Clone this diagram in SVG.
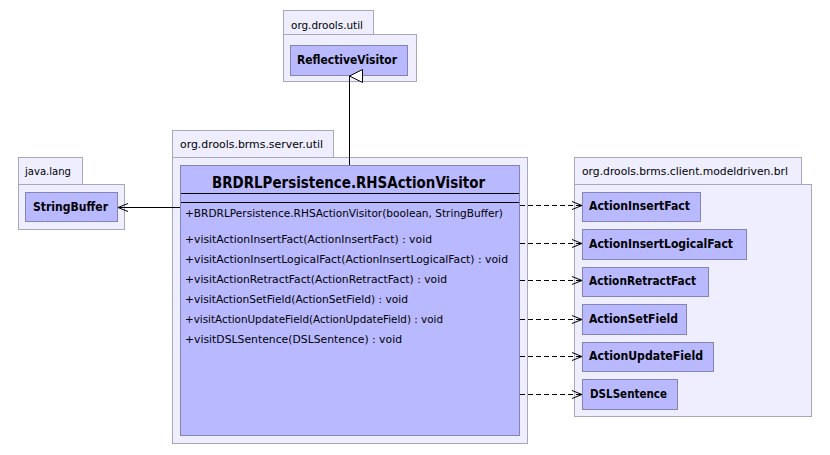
<svg xmlns="http://www.w3.org/2000/svg" width="830" height="455" viewBox="0 0 830 455">
<style>
.pkg{fill:#eeeeff;stroke:#a8a8bc;stroke-width:1}
.cls{fill:#b9b9ff;stroke:#8484b4;stroke-width:1}
.plabel{font-family:"DejaVu Sans","Liberation Sans",sans-serif;font-size:11px;fill:#000}
.cname{font-family:"DejaVu Sans","Liberation Sans",sans-serif;font-size:12px;font-weight:bold;fill:#000}
.big{font-family:"DejaVu Sans","Liberation Sans",sans-serif;font-size:16px;font-weight:bold;fill:#000}
.mem{font-family:"DejaVu Sans","Liberation Sans",sans-serif;font-size:10.5px;fill:#000}
.line{stroke:#000;stroke-width:1;fill:none}
.dash{stroke:#000;stroke-width:1;fill:none;stroke-dasharray:5,3}
</style>
<defs>
<marker id="open" markerWidth="12" markerHeight="10" refX="11" refY="5" orient="auto" markerUnits="userSpaceOnUse">
<path d="M1,1 L11,5 L1,9" fill="none" stroke="#000" stroke-width="1"/>
</marker>
<marker id="tri" markerWidth="16" markerHeight="16" refX="7.5" refY="1" orient="auto-start-reverse" markerUnits="userSpaceOnUse">
<path d="M1,14 L7.5,1 L14,14 Z" fill="#fff" stroke="#000" stroke-width="1"/>
</marker>
</defs>

<g id="pkg-util">
<rect class="pkg" x="283.5" y="10.5" width="90" height="24"/>
<rect class="pkg" x="283.5" y="34.5" width="133" height="47"/>
<text class="plabel" x="291" y="29" textLength="72" lengthAdjust="spacingAndGlyphs">org.drools.util</text>
</g>
<g id="ReflectiveVisitor">
<rect class="cls" x="290.5" y="45.5" width="117" height="30"/>
<text class="cname" x="297" y="64" textLength="100" lengthAdjust="spacingAndGlyphs">ReflectiveVisitor</text>
</g>

<g id="pkg-javalang">
<rect class="pkg" x="18.5" y="157.5" width="64" height="27"/>
<rect class="pkg" x="18.5" y="184.5" width="106" height="45"/>
<text class="plabel" x="25" y="175" textLength="46" lengthAdjust="spacingAndGlyphs">java.lang</text>
</g>
<g id="StringBuffer">
<rect class="cls" x="25.5" y="192.5" width="92" height="29"/>
<text class="cname" x="33" y="211" textLength="75" lengthAdjust="spacingAndGlyphs">StringBuffer</text>
</g>

<g id="pkg-server">
<rect class="pkg" x="172.5" y="130.5" width="161" height="27"/>
<rect class="pkg" x="172.5" y="157.5" width="355" height="286"/>
<text class="plabel" x="180" y="148" textLength="143" lengthAdjust="spacingAndGlyphs">org.drools.brms.server.util</text>
</g>
<g id="RHSActionVisitor">
<rect class="cls" x="180.5" y="165.5" width="339" height="270"/>
<text class="big" x="212" y="188" textLength="273" lengthAdjust="spacingAndGlyphs">BRDRLPersistence.RHSActionVisitor</text>
<line class="line" x1="181" y1="193.5" x2="519" y2="193.5"/>
<line class="line" x1="181" y1="202.5" x2="519" y2="202.5"/>
<text class="mem" x="185" y="217" textLength="318" lengthAdjust="spacingAndGlyphs">+BRDRLPersistence.RHSActionVisitor(boolean, StringBuffer)</text>
<text class="mem" x="185" y="243" textLength="247" lengthAdjust="spacingAndGlyphs">+visitActionInsertFact(ActionInsertFact) : void</text>
<text class="mem" x="185" y="263" textLength="323" lengthAdjust="spacingAndGlyphs">+visitActionInsertLogicalFact(ActionInsertLogicalFact) : void</text>
<text class="mem" x="185" y="283" textLength="262" lengthAdjust="spacingAndGlyphs">+visitActionRetractFact(ActionRetractFact) : void</text>
<text class="mem" x="185" y="303" textLength="223" lengthAdjust="spacingAndGlyphs">+visitActionSetField(ActionSetField) : void</text>
<text class="mem" x="185" y="323" textLength="258" lengthAdjust="spacingAndGlyphs">+visitActionUpdateField(ActionUpdateField) : void</text>
<text class="mem" x="185" y="343" textLength="217" lengthAdjust="spacingAndGlyphs">+visitDSLSentence(DSLSentence) : void</text>
</g>

<g id="pkg-brl">
<rect class="pkg" x="574.5" y="157.5" width="227" height="27"/>
<rect class="pkg" x="574.5" y="184.5" width="237" height="232"/>
<text class="plabel" x="582" y="175" textLength="206" lengthAdjust="spacingAndGlyphs">org.drools.brms.client.modeldriven.brl</text>
</g>
<g id="ActionInsertFact">
<rect class="cls" x="582.5" y="192.5" width="118" height="29"/>
<text class="cname" x="589" y="210" textLength="101" lengthAdjust="spacingAndGlyphs">ActionInsertFact</text>
</g>
<g id="ActionInsertLogicalFact">
<rect class="cls" x="582.5" y="229.5" width="164" height="30"/>
<text class="cname" x="589" y="248" textLength="144" lengthAdjust="spacingAndGlyphs">ActionInsertLogicalFact</text>
</g>
<g id="ActionRetractFact">
<rect class="cls" x="582.5" y="267.5" width="126" height="29"/>
<text class="cname" x="589" y="285" textLength="107" lengthAdjust="spacingAndGlyphs">ActionRetractFact</text>
</g>
<g id="ActionSetField">
<rect class="cls" x="582.5" y="304.5" width="104" height="30"/>
<text class="cname" x="589" y="323" textLength="89" lengthAdjust="spacingAndGlyphs">ActionSetField</text>
</g>
<g id="ActionUpdateField">
<rect class="cls" x="582.5" y="342.5" width="131" height="29"/>
<text class="cname" x="589" y="360" textLength="114" lengthAdjust="spacingAndGlyphs">ActionUpdateField</text>
</g>
<g id="DSLSentence">
<rect class="cls" x="582.5" y="379.5" width="95" height="30"/>
<text class="cname" x="590" y="398" textLength="77" lengthAdjust="spacingAndGlyphs">DSLSentence</text>
</g>

<g id="connectors">
<line class="line" x1="349.5" y1="165" x2="349.5" y2="76" marker-end="url(#tri)"/>
<line class="line" x1="180" y1="207.5" x2="118" y2="207.5" marker-end="url(#open)"/>
<line class="dash" x1="520" y1="205.5" x2="582" y2="205.5" marker-end="url(#open)"/>
<line class="dash" x1="520" y1="243.5" x2="582" y2="243.5" marker-end="url(#open)"/>
<line class="dash" x1="520" y1="280.5" x2="582" y2="280.5" marker-end="url(#open)"/>
<line class="dash" x1="520" y1="319.5" x2="582" y2="319.5" marker-end="url(#open)"/>
<line class="dash" x1="520" y1="356.5" x2="582" y2="356.5" marker-end="url(#open)"/>
<line class="dash" x1="520" y1="394.5" x2="582" y2="394.5" marker-end="url(#open)"/>
</g>
</svg>
